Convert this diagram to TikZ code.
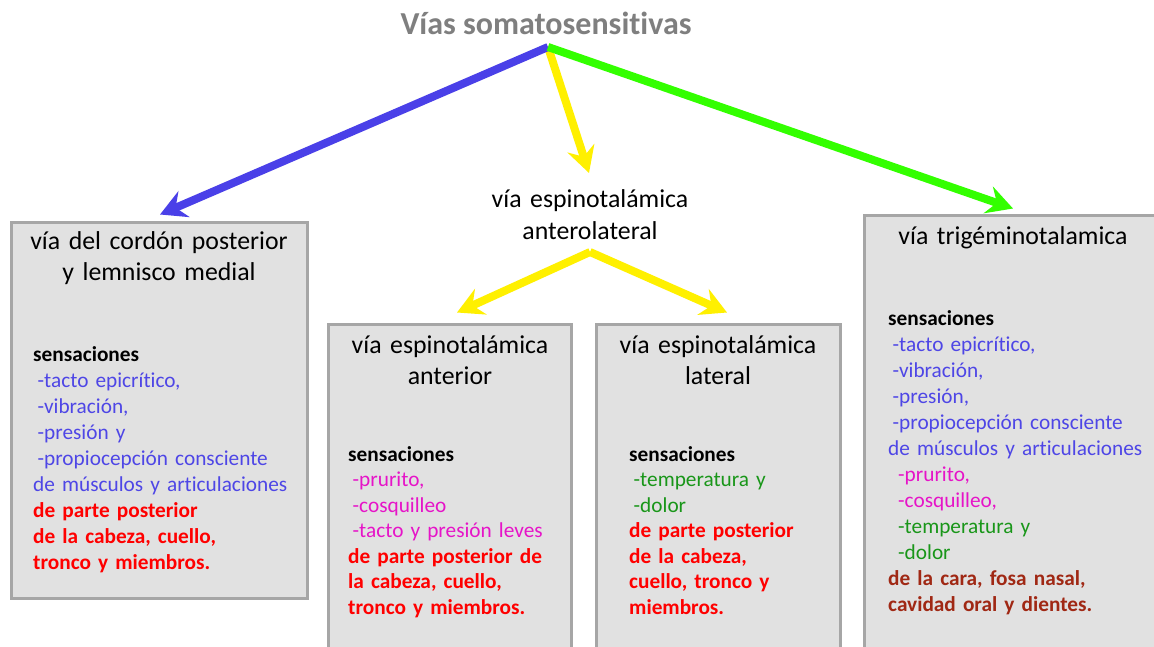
\documentclass[tikz,border=0pt]{standalone}
\usepackage{fontspec}
\setmainfont{Carlito}[Ligatures=NoCommon]
\usetikzlibrary{arrows.meta,calc}
\definecolor{titlegray}{RGB}{127,127,127}
\definecolor{arrblue}{RGB}{74,64,232}
\definecolor{arryellow}{RGB}{255,240,0}
\definecolor{arrgreen}{RGB}{51,255,0}
\definecolor{boxfill}{RGB}{225,225,225}
\definecolor{boxline}{RGB}{166,166,166}
\definecolor{txtblue}{RGB}{78,70,230}
\definecolor{txtmag}{RGB}{230,20,200}
\definecolor{txtgreen}{RGB}{25,150,25}
\definecolor{txtred}{RGB}{255,0,0}
\definecolor{txtdred}{RGB}{160,40,20}
\tikzset{
  box/.style={draw=boxline, fill=boxfill, line width=3pt, rectangle, inner sep=0pt},
  fat/.style={line width=8pt, line cap=butt, -{Stealth[length=26pt, width=28pt, inset=9pt]}},
  head/.style={anchor=base, align=center, text width=300pt, inner sep=0pt,
    font=\fontsize{25.8}{31}\selectfont},
  body/.style={anchor=base west, align=left, text width=300pt, inner sep=0pt,
    font=\fontsize{21.3}{26}\selectfont},
  bodyb/.style={body, font=\fontsize{21.3}{25.5}\selectfont}
}
\newcommand{\ind}{\hspace*{4.5pt}}
\newcommand{\indd}{\hspace*{10pt}}
\begin{document}
\begin{tikzpicture}[x=1pt, y=-1pt]
\clip (0,0) rectangle (1154,646);
\fill[white] (0,0) rectangle (1154,646);
% boxes
\node[box, minimum width=296pt, minimum height=376pt] (b1) at (159.5,410.5) {};
\node[box, minimum width=243pt, minimum height=400pt] (b2) at (450,524.5) {};
\node[box, minimum width=244pt, minimum height=400pt] (b3) at (718.5,524.5) {};
\node[box, minimum width=305pt, minimum height=484pt] (b4) at (1017,457.5) {};
% title and middle label
\node[anchor=base, inner sep=0pt, text=titlegray, font=\fontsize{32}{38}\selectfont\bfseries] (title) at (546,34) {Vías somatosensitivas};
\node[head, text width=260pt, font=\fontsize{25.8}{32.5}\selectfont] (mid) at (590,207) {vía espinotalámica\\anterolateral};
% coordinates
\coordinate (apex) at (548,47);
\coordinate (midtip) at (589,173);
\coordinate (split) at (590,252);
% arrows
\draw[fat, arryellow] (apex) -- (midtip);
\draw[fat, arrblue] (apex) -- ($(b1.north)+(0.5,-6.5)$);
\draw[fat, arrgreen] (apex) -- ($(b4.north)+(-4,-5.5)$);
\draw[fat, arryellow] (split) -- ($(b2.north)+(7,-10.5)$);
\draw[fat, arryellow] (split) -- ($(b3.north)+(8.5,-10.5)$);
% headers
\node[head] (h1) at (159,249) {vía del cordón posterior\\y lemnisco medial};
\node[head] (h2) at (450,353) {vía espinotalámica\\anterior};
\node[head] (h3) at (718,353) {vía espinotalámica\\lateral};
\node[head] (h4) at (1013,244) {vía trigéminotalamica};
% bodies
\node[body] (t1) at (33,361) {\textbf{sensaciones}\\
\textcolor{txtblue}{\ind-tacto epicrítico,}\\
\textcolor{txtblue}{\ind-vibración,}\\
\textcolor{txtblue}{\ind-presión y}\\
\textcolor{txtblue}{\ind-propiocepción consciente}\\
\textcolor{txtblue}{de músculos y articulaciones}\\
\textcolor{txtred}{\textbf{de parte posterior}}\\
\textcolor{txtred}{\textbf{de la cabeza, cuello,}}\\
\textcolor{txtred}{\textbf{tronco y miembros.}}};
\node[bodyb] (t2) at (348,461) {\textbf{sensaciones}\\
\textcolor{txtmag}{\ind-prurito,}\\
\textcolor{txtmag}{\ind-cosquilleo}\\
\textcolor{txtmag}{\ind-tacto y presión leves}\\
\textcolor{txtred}{\textbf{de parte posterior de}}\\
\textcolor{txtred}{\textbf{la cabeza, cuello,}}\\
\textcolor{txtred}{\textbf{tronco y miembros.}}};
\node[bodyb] (t3) at (629,461) {\textbf{sensaciones}\\
\textcolor{txtgreen}{\ind-temperatura y}\\
\textcolor{txtgreen}{\ind-dolor}\\
\textcolor{txtred}{\textbf{de parte posterior}}\\
\textcolor{txtred}{\textbf{de la cabeza,}}\\
\textcolor{txtred}{\textbf{cuello, tronco y}}\\
\textcolor{txtred}{\textbf{miembros.}}};
\node[body] (t4) at (888,325) {\textbf{sensaciones}\\
\textcolor{txtblue}{\ind-tacto epicrítico,}\\
\textcolor{txtblue}{\ind-vibración,}\\
\textcolor{txtblue}{\ind-presión,}\\
\textcolor{txtblue}{\ind-propiocepción consciente}\\
\textcolor{txtblue}{de músculos y articulaciones}\\
\textcolor{txtmag}{\indd-prurito,}\\
\textcolor{txtmag}{\indd-cosquilleo,}\\
\textcolor{txtgreen}{\indd-temperatura y}\\
\textcolor{txtgreen}{\indd-dolor}\\
\textcolor{txtdred}{\textbf{de la cara, fosa nasal,}}\\
\textcolor{txtdred}{\textbf{cavidad oral y dientes.}}};
\end{tikzpicture}
\end{document}
